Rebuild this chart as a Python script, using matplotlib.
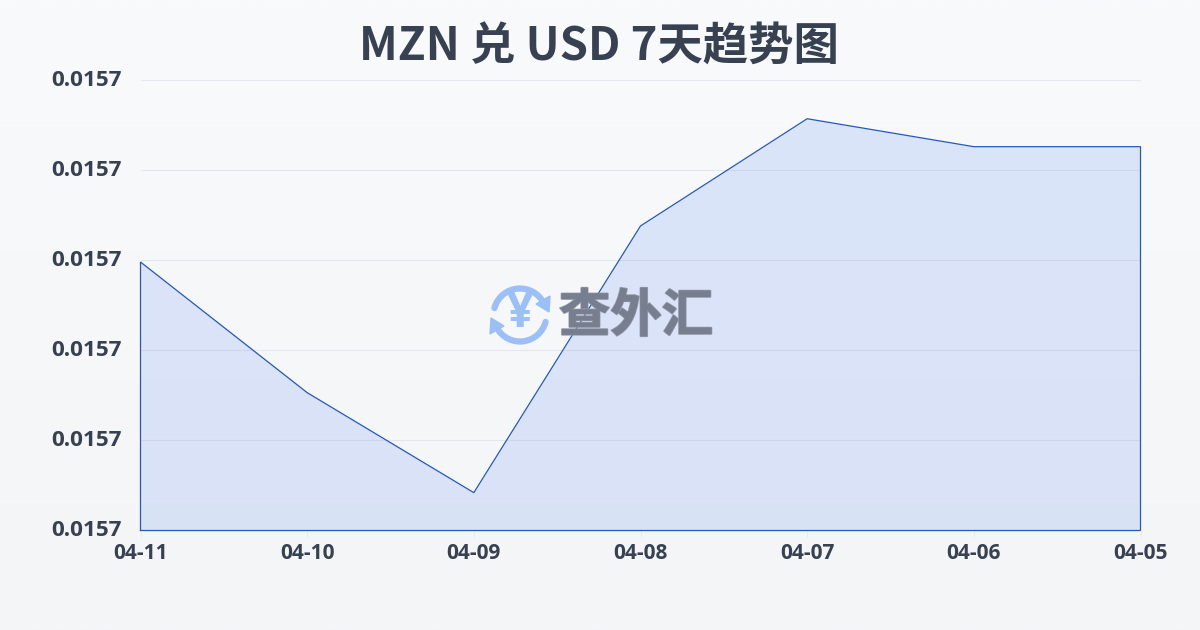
import numpy as np
import matplotlib
matplotlib.use("Agg")
import matplotlib.pyplot as plt
import matplotlib.patheffects as pe
from matplotlib.patches import Arc, Polygon
from matplotlib.transforms import ScaledTranslation

plt.rcParams['font.family'] = ['Noto Sans CJK SC', 'DejaVu Sans']

dates = ['04-11', '04-10', '04-09', '04-08', '04-07', '04-06', '04-05']
rates = [0.0157098, 0.0156953, 0.0156842, 0.0157138, 0.0157257, 0.0157226, 0.0157226]
y_ticks = [0.01568, 0.01569, 0.01570, 0.01571, 0.01572, 0.01573]
title = 'MZN 兑 USD 7天趋势图'
watermark = '查外汇'

W, H = 1200, 630
fig = plt.figure(figsize=(W / 100, H / 100), dpi=100)

bg = fig.add_axes([0, 0, 1, 1], zorder=0)
grad = np.linspace(0, 1, 256).reshape(-1, 1, 1)
top = np.array([0xF8, 0xFA, 0xFC]) / 255
bot = np.array([0xF3, 0xF5, 0xF7]) / 255
bg.imshow(top + (bot - top) * grad, aspect='auto', extent=[0, 1, 0, 1])
bg.axis('off')

ax = fig.add_axes([140.5 / W, 1 - 530.5 / H, 1000 / W, 450.5 / H], zorder=1)
ax.patch.set_alpha(0)
x = np.arange(len(dates))
ax.fill_between(x, rates, y_ticks[0], color='#2563EB', alpha=0.13, lw=0, zorder=2)
ax.plot(np.r_[x[0], x, x[-1], x[0]], np.r_[y_ticks[0], rates, y_ticks[0], y_ticks[0]],
        color='#2458BE', lw=0.9, zorder=3, solid_joinstyle='miter', clip_on=False)
ax.set_xlim(0, len(dates) - 1)
ax.set_ylim(y_ticks[0], y_ticks[-1])
ax.set_yticks(y_ticks)
ax.set_yticklabels([f'{v:.4f}' for v in y_ticks])
ax.set_xticks(x)
ax.set_xticklabels(dates)
ax.grid(axis='y', color='#E4E7EB', lw=0.8, zorder=1)
for s in ax.spines.values():
    s.set_visible(False)
ax.tick_params(axis='y', length=0, pad=13.5, labelsize=16.2, labelcolor='#374151')
ax.tick_params(axis='x', length=4, width=0.6, color='#E8E8E0', pad=5,
               labelsize=15, labelcolor='#374151')
shift = ScaledTranslation(0, 2 / 100, fig.dpi_scale_trans)
for t in ax.get_yticklabels():
    t.set_transform(t.get_transform() + shift)
for t in ax.get_yticklabels() + ax.get_xticklabels():
    t.set_fontweight('bold')
    t.set_fontfamily(['Open Sans', 'DejaVu Sans'])

fig.text(599 / W, 1 - 48 / H, title, ha='center', va='center',
         fontsize=32.7, fontweight='bold', color='#374151')

# watermark overlay in pixel coordinates
ov = fig.add_axes([0, 0, 1, 1], zorder=5)
ov.set_xlim(0, W)
ov.set_ylim(H, 0)
ov.axis('off')
ov.patch.set_alpha(0)
blue = '#9CBFF7'
cx, cy, r = 520, 315, 26.5
ov.add_patch(Arc((cx, cy), 2 * r, 2 * r, theta1=195, theta2=335, color=blue, lw=4.5, capstyle='round'))
ov.add_patch(Arc((cx, cy), 2 * r, 2 * r, theta1=15, theta2=150, color=blue, lw=4.5, capstyle='round'))
ov.add_patch(Polygon([(550, 296), (549, 312), (536, 304)], color=blue))
ov.add_patch(Polygon([(490, 334), (491, 318), (504, 326)], color=blue))
ov.text(cx, cy - 1, '¥', ha='center', va='center', fontsize=36, fontweight='bold', color=blue,
        family=['Open Sans', 'DejaVu Sans'])
ov.text(636, 316, watermark, ha='center', va='center', fontsize=37, fontweight='bold',
        color='#767E90', alpha=0.92,
        path_effects=[pe.withStroke(linewidth=1.4, foreground='#8A91A0'), pe.Normal()])

fig.savefig('out.png', dpi=100)
